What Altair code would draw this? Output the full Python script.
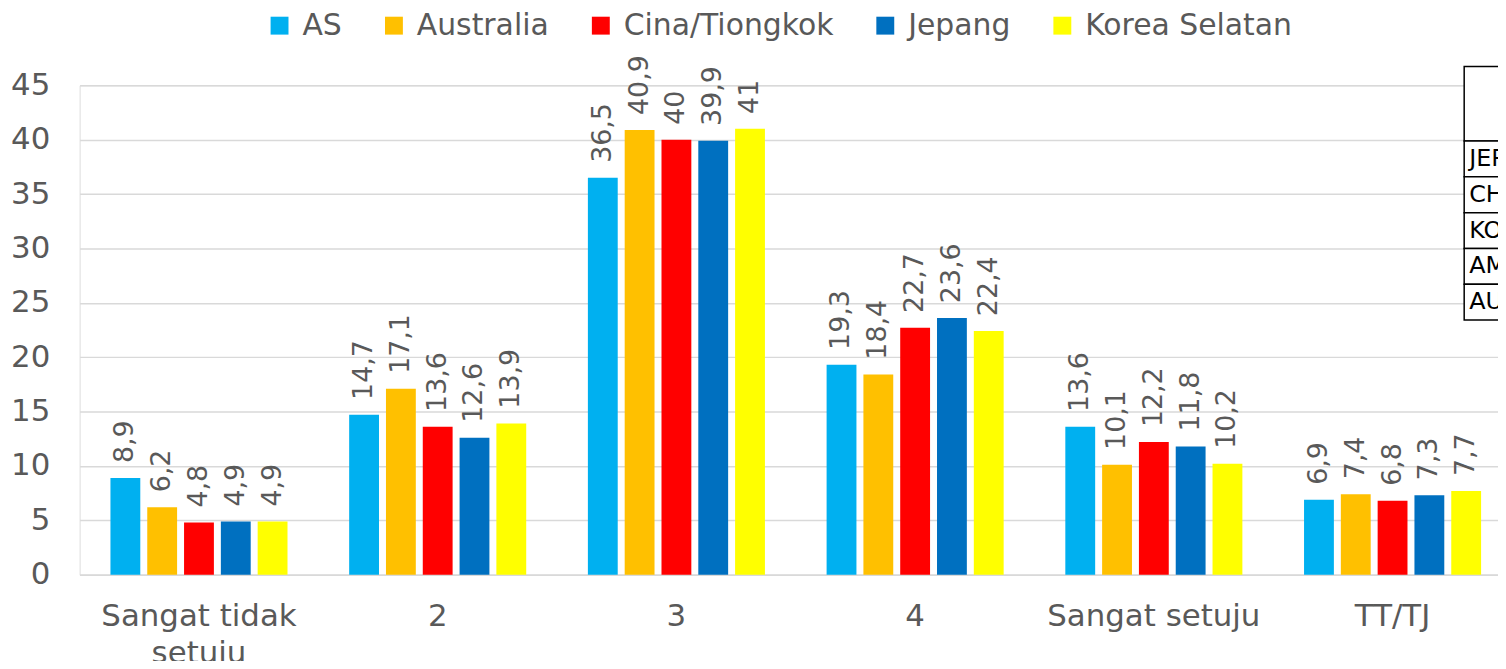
import altair as alt
import pandas as pd

categories = ["Sangat tidak setuju", "2", "3", "4", "Sangat setuju", "TT/TJ"]
countries = ["AS", "Australia", "Cina/Tiongkok", "Jepang", "Korea Selatan"]
colors = ["#00B0F0", "#FFC000", "#FF0000", "#0070C0", "#FFFF00"]

as_vals = [8.9, 14.7, 36.5, 19.3, 13.6, 6.9]
australia_vals = [6.2, 17.1, 40.9, 18.4, 10.1, 7.4]
cina_vals = [4.8, 13.6, 40, 22.7, 12.2, 6.8]
jepang_vals = [4.9, 12.6, 39.9, 23.6, 11.8, 7.3]
korea_vals = [4.9, 13.9, 41, 22.4, 10.2, 7.7]

table_rows = ["JEPANG", "CHINA", "KOREA", "AMERIKA", "AUSTRALIA"]

series = [as_vals, australia_vals, cina_vals, jepang_vals, korea_vals]
rows = []
for c, vals in zip(countries, series):
    for cat, v in zip(categories, vals):
        rows.append({"cat": cat, "country": c, "value": v,
                     "label": f"{v:g}".replace(".", ",")})
df = pd.DataFrame(rows)

FONT = "DejaVu Sans"
GRAY = "#595959"

x_enc = alt.X("cat:N", sort=categories,
              scale=alt.Scale(range=[0, 1440], paddingInner=0, paddingOuter=0),
              axis=alt.Axis(title=None, labelAngle=0, ticks=False, domain=True,
                            domainColor="#D9D9D9", domainWidth=1.5,
                            labelFontSize=31, labelColor=GRAY, labelFont=FONT,
                            labelPadding=27, labelLineHeight=37, labelLimit=400,
                            labelExpr="datum.label == 'Sangat tidak setuju' ? ['Sangat tidak', 'setuju'] : datum.label"))
xoff = alt.XOffset("country:N", sort=countries,
                   scale=alt.Scale(paddingInner=7/37, paddingOuter=0.8378))
y_scale = alt.Scale(domain=[0, 45], nice=False)

bars = alt.Chart(df).mark_bar().encode(
    x=x_enc,
    xOffset=xoff,
    y=alt.Y("value:Q", scale=y_scale,
            axis=alt.Axis(title=None, values=list(range(0, 46, 5)), ticks=False,
                          domain=False, grid=True, gridColor="#D9D9D9",
                          gridWidth=1.5, labelFontSize=31, labelColor=GRAY,
                          labelFont=FONT, labelPadding=30)),
    color=alt.Color("country:N", sort=countries,
                    scale=alt.Scale(domain=countries, range=colors),
                    legend=alt.Legend(title=None, orient="none", direction="horizontal",
                                      legendX=186, legendY=-75, symbolType="square",
                                      symbolSize=324, symbolStrokeWidth=0,
                                      labelFontSize=30, labelColor=GRAY, labelFont=FONT,
                                      labelOffset=8, columnPadding=37, labelLimit=400)),
)

labels = alt.Chart(df).mark_text(angle=270, align="left", baseline="middle", dx=15,
                                 fontSize=27, font=FONT, color=GRAY).encode(
    x=x_enc,
    xOffset=xoff,
    y=alt.Y("value:Q", scale=y_scale, axis=None),
    text="label:N",
)

tdf = pd.DataFrame({"name": table_rows})
row_y = alt.Y("name:N", sort=table_rows,
              scale=alt.Scale(range=[56, 236], paddingInner=0, paddingOuter=0),
              axis=None)
table_rects = alt.Chart(tdf).mark_rect(fill="white", stroke="black", strokeWidth=1.5).encode(
    x=alt.value(1392), x2=alt.value(1500), y=row_y)
table_text = alt.Chart(tdf).mark_text(align="left", baseline="middle", fontSize=24,
                                      font=FONT, color="black", dx=5).encode(
    x=alt.value(1392), y=row_y, text="name:N")
header = alt.Chart(pd.DataFrame({"h": [""]})).mark_rect(
    fill="white", stroke="black", strokeWidth=1.5).encode(
    x=alt.value(1392), x2=alt.value(1500), y=alt.value(-19), y2=alt.value(56))

chart = alt.layer(bars, labels, header, table_rects, table_text).resolve_scale(
    y="independent"
).properties(
    width=1426, height=492,
    autosize=alt.AutoSizeParams(type="none"),
    padding={"left": 72, "top": 76, "right": 0, "bottom": 85},
).configure_view(stroke=None).configure(background="white")

chart.save("out.html", embed_options={"renderer": "svg", "actions": False})
